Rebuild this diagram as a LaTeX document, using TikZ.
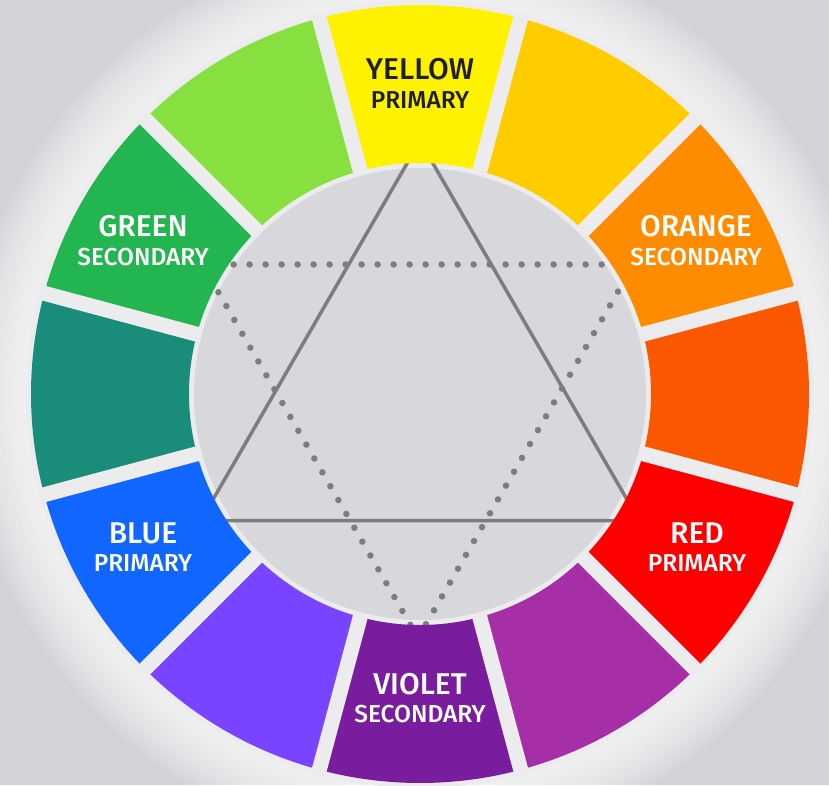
\documentclass[tikz,border=0pt]{standalone}
\usepackage{fontspec}
\setmainfont{Fira Sans}
\newfontfamily\wheelfont{Fira Sans Medium}
\usepackage{tikz}
\usetikzlibrary{positioning}
\definecolor{cw-bg}{RGB}{210, 210, 215}
\definecolor{cw-ring}{RGB}{236, 236, 238}
\definecolor{cw-core}{RGB}{216, 216, 220}
\definecolor{cw-line}{RGB}{125, 125, 125}
\definecolor{cw-ink}{RGB}{30, 30, 30}
\definecolor{cw-yellow}{RGB}{255, 242, 0}
\definecolor{cw-amber}{RGB}{255, 204, 0}
\definecolor{cw-orange}{RGB}{255, 140, 0}
\definecolor{cw-vermilion}{RGB}{250, 87, 0}
\definecolor{cw-red}{RGB}{255, 0, 0}
\definecolor{cw-magenta}{RGB}{166, 47, 168}
\definecolor{cw-violet}{RGB}{122, 28, 158}
\definecolor{cw-indigo}{RGB}{120, 68, 255}
\definecolor{cw-blue}{RGB}{17, 102, 255}
\definecolor{cw-teal}{RGB}{26, 140, 122}
\definecolor{cw-green}{RGB}{34, 181, 80}
\definecolor{cw-lime}{RGB}{136, 224, 64}

\begin{document}
\begin{tikzpicture}[x=1pt, y=1pt,
    mainlbl/.style={anchor=base, inner sep=0pt, text=white,
                    font=\wheelfont\fontsize{30}{30}\selectfont},
    sublbl/.style={anchor=base, inner sep=0pt, text=white,
                   font=\wheelfont\fontsize{24.5}{24.5}\selectfont},
    gap/.style={line width=15pt, color=cw-ring},
    solidline/.style={line width=3.5pt, color=cw-line},
    dotline/.style={line width=6.5pt, color=cw-line, line cap=round,
                    dash pattern=on 0pt off 16pt}
  ]
    \fill[cw-bg] (0,0) rectangle (829,785);
    \useasboundingbox (0,0) rectangle (829,785);
    \coordinate (wc) at (420,391);
    \coordinate (dc) at (418,396);

    \foreach \r in {394,399,...,454}
      \fill[white, opacity=0.1] (wc) circle (\r);
    \fill[cw-ring] (wc) circle (394);
    \fill[cw-core] (wc) circle (226);

    \draw[solidline] ([shift={(90:253)}]wc) coordinate (ta)
      -- ([shift={(210:253)}]wc) coordinate (tb)
      -- ([shift={(330:253)}]wc) coordinate (tc) -- cycle;
    \draw[dotline] ([shift={(270:249)}]dc) coordinate (da)
      -- ([shift={(30:249)}]dc) coordinate (db);
    \draw[dotline] (db) -- ([shift={(150:249)}]dc) coordinate (dd);
    \draw[dotline] (dd) -- (da);

    \begin{scope}[shift={(wc)}]
      \foreach \a/\c in {90/cw-yellow, 60/cw-amber, 30/cw-orange, 0/cw-vermilion,
                         -30/cw-red, -60/cw-magenta, -90/cw-violet, -120/cw-indigo,
                         -150/cw-blue, 180/cw-teal, 150/cw-green, 120/cw-lime}
        \fill[\c] ({\a-15}:231) arc[start angle={\a-15}, end angle={\a+15}, radius=231]
          -- ({\a+15}:389) arc[start angle={\a+15}, end angle={\a-15}, radius=389] -- cycle;
      \foreach \a in {15,45,...,345}
        \draw[gap] (\a:229) -- (\a:394);
    \end{scope}

    \node[mainlbl, text=cw-ink] (yellow) at (420,705) {YELLOW};
    \node[sublbl, text=cw-ink, below=28.5pt of yellow.base, anchor=base] (yellowsub) {PRIMARY};
    \node[mainlbl] (orange) at (696,548) {ORANGE};
    \node[sublbl, below=28.5pt of orange.base, anchor=base] (orangesub) {SECONDARY};
    \node[mainlbl] (green) at (143,548) {GREEN};
    \node[sublbl, below=28.5pt of green.base, anchor=base] (greensub) {SECONDARY};
    \node[mainlbl] (red) at (697,242) {RED};
    \node[sublbl, below=28.5pt of red.base, anchor=base] (redsub) {PRIMARY};
    \node[mainlbl] (blue) at (143,242) {BLUE};
    \node[sublbl, below=28.5pt of blue.base, anchor=base] (bluesub) {PRIMARY};
    \node[mainlbl] (violet) at (420,91) {VIOLET};
    \node[sublbl, below=28.5pt of violet.base, anchor=base] (violetsub) {SECONDARY};
  \end{tikzpicture}
\end{document}
